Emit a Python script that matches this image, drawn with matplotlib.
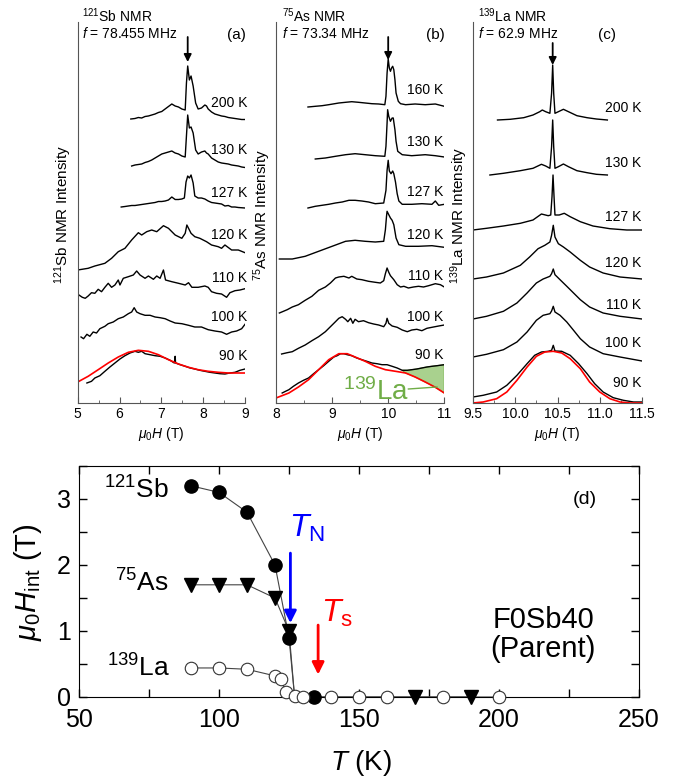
import matplotlib
matplotlib.use("Agg")
import matplotlib.pyplot as plt
from matplotlib.ticker import MultipleLocator

plt.rcParams['font.family'] = ['Liberation Sans', 'DejaVu Sans']
plt.rcParams['mathtext.fontset'] = 'custom'
plt.rcParams['mathtext.rm'] = 'Liberation Sans'
plt.rcParams['mathtext.it'] = 'Liberation Sans:italic'
plt.rcParams['mathtext.bf'] = 'Liberation Sans:bold'

# ---------------- (a) 121Sb NMR spectra ----------------
sb_temps = ['200 K', '130 K', '127 K', '120 K', '110 K', '100 K', '90 K']
sb_offsets = [284, 237, 196, 133, 108, 66, 20]
sb_fields = [
    [6.27, 6.37, 6.45, 6.53, 6.61, 6.69, 6.77, 6.85, 6.93, 7.01, 7.09, 7.17, 7.25, 7.33, 7.41, 7.49, 7.57, 7.60, 7.63, 7.67,
     7.71, 7.76, 7.82, 7.88, 7.96, 8.04, 8.08, 8.12, 8.20, 8.28, 8.36, 8.44, 8.52, 8.60, 8.68, 8.76, 8.84, 8.92, 9.00],
    [6.29, 6.37, 6.45, 6.53, 6.61, 6.69, 6.77, 6.85, 6.93, 7.01, 7.09, 7.17, 7.25, 7.33, 7.41, 7.49, 7.57, 7.60, 7.63, 7.67,
     7.71, 7.76, 7.82, 7.88, 7.96, 8.04, 8.08, 8.12, 8.20, 8.28, 8.36, 8.44, 8.52, 8.60, 8.68, 8.76, 8.84, 8.92, 9.00],
    [6.04, 6.13, 6.21, 6.29, 6.37, 6.45, 6.53, 6.61, 6.69, 6.77, 6.85, 6.93, 7.01, 7.09, 7.17, 7.25, 7.33, 7.41, 7.49, 7.55,
     7.59, 7.63, 7.67, 7.71, 7.76, 7.80, 7.88, 7.96, 8.04, 8.12, 8.20, 8.28, 8.36, 8.44, 8.52, 8.60, 8.68, 8.76, 8.84, 9.00],
    [5.00, 5.25, 5.41, 5.65, 5.81, 5.97, 6.13, 6.29, 6.45, 6.53, 6.65, 6.77, 6.89, 7.05, 7.17, 7.33, 7.49, 7.57, 7.61, 7.65,
     7.71, 7.80, 7.92, 8.08, 8.20, 8.36, 8.44, 8.52, 8.68, 8.84, 9.00],
    [5.03, 5.11, 5.18, 5.25, 5.33, 5.41, 5.49, 5.57, 5.65, 5.73, 5.81, 5.89, 5.97, 6.01, 6.09, 6.21, 6.33, 6.41, 6.49, 6.61,
     6.69, 6.81, 6.89, 6.97, 7.05, 7.10, 7.25, 7.41, 7.57, 7.65, 7.73, 7.88, 8.04, 8.12, 8.20, 8.32, 8.44, 8.56, 8.64, 8.76,
     8.88, 9.00],
    [5.08, 5.14, 5.22, 5.29, 5.37, 5.45, 5.53, 5.65, 5.73, 5.85, 5.97, 6.09, 6.21, 6.29, 6.35, 6.41, 6.49, 6.61, 6.73, 6.85,
     6.97, 7.09, 7.21, 7.33, 7.49, 7.65, 7.80, 7.96, 8.12, 8.28, 8.44, 8.56, 8.68, 8.80, 8.92, 9.00],
    [5.22, 5.33, 5.41, 5.53, 5.65, 5.77, 5.89, 6.01, 6.13, 6.25, 6.37, 6.45, 6.53, 6.61, 6.73, 6.85, 6.97, 7.09, 7.21, 7.31,
     7.33, 7.34, 7.45, 7.57, 7.69, 7.80, 7.92, 8.04, 8.16, 8.28, 8.40, 8.52, 8.64, 8.76, 8.88, 9.00],
]
sb_intens = [
    [0, 0.5, 1.5, 1, 2.5, 3, 4, 5, 6.5, 7.5, 10, 12.5, 15, 13, 12, 10, 9, 36, 53, 39,
     43, 33, 16, 10, 11, 14, 13, 10, 7, 5, 4, 3, 2.5, 1.5, 1, 0.5, 0, -0.5, -0.5],
    [0, 1, 1.5, 2, 3.5, 4.5, 6, 8, 10, 12, 13, 14, 15, 13, 12, 10, 9, 30, 51, 38,
     39, 33, 16, 12, 14, 15, 13, 12, 8, 6, 4, 3, 2.5, 2, 1, 0.5, 0, -1, -1.5],
    [0, 0.5, 1, 1.5, 1.5, 2, 2.5, 3, 3.5, 4, 4.5, 5.5, 5.5, 6, 7, 10, 7.5, 7.5, 8, 9,
     25, 31, 29, 32, 24, 11, 9, 9, 8, 6, 4.5, 4, 3.5, 3, 1, 1.5, 0, 0, -0.5, -1],
    [0, 1.7, 4, 6.7, 11.7, 18.3, 21.7, 30, 37.3, 35, 38.3, 40, 38.3, 44.3, 41.7, 35, 31.7, 36.7, 45, 41.7,
     36.7, 33.3, 31.7, 28.3, 25, 23.3, 21.7, 25, 20, 20, 17.3],
    [0, -2.3, -3.3, -1, 2.3, 1.7, 5.7, 3.3, 7.7, 11.7, 7.7, 10, 15, 10, 16.7, 18.3, 20, 24, 20, 16.7,
     19, 15.7, 19, 16.7, 25, 15, 13.3, 11.7, 10, 12.3, 7.7, 7.7, 9, 7.7, 3.3, 1.7, 1, -2.3, 2.3, 4.3,
     5, 6.3],
    [0, -1.7, 2.7, 0.7, 5, 4, 8.3, 10.7, 13.3, 15, 18.3, 20, 23.3, 25, 29.3, 25, 23.3, 21.7, 21.7, 20,
     19.3, 18.3, 16, 14, 13.3, 11.7, 10, 10, 7.3, 6, 5, 2.7, 5, 6, 8.3, 12.7],
    [0, 1.7, 5, 7.3, 11.7, 16, 20, 24, 27.3, 30, 31.7, 30.7, 31.7, 29.3, 28.3, 27.3, 26.7, 25, 22.7, 20,
     26.7, 20, 18.3, 16.7, 15, 14, 12.7, 11.7, 10.7, 10, 9.3, 9, 10, 10.7, 12.7, 14],
]
sb_fit_field = [5.00, 5.25, 5.49, 5.73, 5.97, 6.21, 6.45, 6.69, 6.93, 7.17, 7.41, 7.65, 7.88, 8.12, 8.36, 8.60, 8.84, 9.00]
sb_fit_int = [1, 6.7, 13.3, 20, 26, 30.7, 32.7, 31.7, 28.3, 23.3, 19, 15.7, 13.3, 11.7, 10.7, 10, 10, 10]

# ---------------- (b) 75As NMR spectra ----------------
as_temps = ['160 K', '130 K', '127 K', '120 K', '110 K', '100 K', '90 K']
as_offsets = [296, 244, 195, 144, 90, 49, 10]
as_fields = [
    [8.57, 8.70, 8.82, 8.94, 9.12, 9.24, 9.35, 9.47, 9.59, 9.71, 9.83, 9.94, 9.96, 9.98, 10.00, 10.02, 10.04, 10.06,
     10.08, 10.10, 10.12, 10.14, 10.18, 10.22, 10.31, 10.48, 10.66, 10.84, 11.00],
    [8.70, 8.88, 9.06, 9.24, 9.41, 9.59, 9.77, 9.94, 9.96, 9.98, 9.99, 10.01, 10.04, 10.07, 10.09, 10.12, 10.14, 10.17,
     10.25, 10.42, 10.66, 10.84, 11.00],
    [8.57, 8.70, 8.82, 8.94, 9.06, 9.18, 9.30, 9.41, 9.53, 9.65, 9.77, 9.92, 9.96, 9.98, 10.00, 10.02, 10.05, 10.08,
     10.10, 10.13, 10.16, 10.19, 10.25, 10.42, 10.60, 10.78, 10.84, 10.90, 11.00],
    [8.06, 8.29, 8.52, 8.76, 9.00, 9.24, 9.41, 9.59, 9.77, 9.92, 9.95, 9.97, 9.98, 10.01, 10.04, 10.07, 10.10, 10.14,
     10.19, 10.31, 10.54, 10.78, 11.00],
    [8.06, 8.20, 8.29, 8.40, 8.52, 8.64, 8.76, 8.88, 8.97, 9.06, 9.12, 9.21, 9.30, 9.35, 9.44, 9.53, 9.65, 9.77,
     9.86, 9.92, 9.95, 9.98, 10.01, 10.04, 10.10, 10.16, 10.22, 10.28, 10.36, 10.45, 10.54, 10.63, 10.72, 10.84,
     10.93, 11.00],
    [8.10, 8.20, 8.29, 8.40, 8.52, 8.64, 8.76, 8.88, 8.97, 9.06, 9.12, 9.18, 9.24, 9.28, 9.33, 9.37, 9.41, 9.47,
     9.56, 9.65, 9.74, 9.83, 9.92, 9.96, 9.98, 10.01, 10.07, 10.16, 10.25, 10.34, 10.42, 10.51, 10.60, 10.69,
     10.78, 10.90, 11.00],
    [8.11, 8.17, 8.23, 8.31, 8.40, 8.49, 8.58, 8.67, 8.76, 8.85, 8.94, 9.03, 9.09, 9.15, 9.21, 9.27, 9.35, 9.44,
     9.53, 9.62, 9.71, 9.80, 9.89, 9.98, 10.07, 10.16, 10.25, 10.34, 10.42, 10.51, 10.60, 10.69, 10.78, 10.87, 11.00],
]
as_intens = [
    [0, 0.7, 1.3, 2.3, 4, 4.7, 5.3, 4.7, 4, 3.3, 3, 2.3, 10.7, 34, 48, 39, 35.7, 39,
     40.7, 37.3, 27.3, 14, 5.7, 3.3, 2.3, 3, 2.3, 3, 0.7],
    [0, 1, 2.7, 4.3, 5.3, 4.3, 3.3, 2.7, 12.7, 36, 49.3, 42.7, 37.7, 41, 41, 29.3, 17.7, 7.7,
     4.3, 3.3, 4.3, 3.3, 2],
    [0, 1.7, 2.7, 3.7, 5, 6, 7.7, 7.7, 7, 6, 4.3, 5, 17.7, 37.7, 47.7, 37, 34.3, 37,
     34.3, 26, 14.3, 7, 3.7, 3.7, 4.3, 3.7, 7, 2.7, 3.7],
    [0, 0, 2.7, 7.7, 12.7, 17.7, 18.7, 17.7, 17, 17.7, 29.3, 42.7, 47.7, 44.3, 41, 38.7, 34.3, 21,
     14.3, 12.7, 12.7, 13.3, 11.7],
    [0, 3.3, 6, 8.3, 12.7, 16.7, 22.7, 26, 30, 35, 36, 36.7, 35, 36.7, 34, 33.3, 31.7, 30.7,
     30, 32.3, 39.3, 45, 40.7, 37.3, 33.3, 28.3, 26, 26.7, 25, 26, 26.7, 26, 27.3, 29.3,
     28.3, 26],
    [0, 1.3, 2.3, 5.7, 9, 13.3, 17.3, 22.3, 27.3, 32.3, 35.7, 37.3, 34.7, 32.3, 35.7, 30.7, 34.7, 32.3,
     33.3, 31.3, 30, 29, 27.3, 30.7, 35.7, 30.7, 28, 26.7, 24, 22.3, 24, 24.7, 23.3, 25.7,
     26.7, 28, 29],
    [0, 1.7, 3.3, 6.7, 10, 12.7, 15, 19.3, 23.3, 27.3, 31.7, 36, 37.3, 39.3, 39.3, 38.3, 37.3, 35,
     33.3, 31.7, 30, 29.3, 28.3, 28.3, 26.7, 25, 22.7, 22.7, 23.3, 24, 25, 26, 26.7, 27.3, 28.3],
]
as_fit_field = [8.00, 8.23, 8.40, 8.58, 8.76, 8.94, 9.12, 9.27, 9.41, 9.59, 9.77, 9.95, 10.13, 10.31, 10.48, 10.66,
                10.84, 11.00]
as_fit_int = [-5, 0, 6, 13.3, 23.3, 33.3, 39.3, 39.3, 36, 31.7, 26.7, 23.3, 21.7, 20, 16, 11, 5.7, 0]

# ---------------- (c) 139La NMR spectra ----------------
la_temps = ['200 K', '130 K', '127 K', '120 K', '110 K', '100 K', '90 K']
la_offsets = [283, 228, 173, 124, 84, 46, 6]
la_fields = [
    [9.79, 9.94, 10.10, 10.21, 10.29, 10.32, 10.36, 10.41, 10.43, 10.443, 10.455, 10.47, 10.51, 10.57, 10.63, 10.73,
     10.85, 10.96, 11.09],
    [9.70, 9.86, 10.06, 10.21, 10.31, 10.36, 10.41, 10.43, 10.443, 10.455, 10.47, 10.51, 10.57, 10.63, 10.73, 10.85,
     10.96, 11.09],
    [9.50, 9.66, 9.86, 10.06, 10.21, 10.31, 10.39, 10.42, 10.435, 10.447, 10.459, 10.47, 10.52, 10.58, 10.65, 10.77,
     10.92, 11.12, 11.32, 11.50],
    [9.50, 9.66, 9.86, 10.06, 10.17, 10.27, 10.35, 10.41, 10.43, 10.45, 10.47, 10.51, 10.57, 10.65, 10.77, 10.88,
     11.04, 11.24, 11.50],
    [9.50, 9.66, 9.86, 10.02, 10.14, 10.25, 10.33, 10.41, 10.43, 10.45, 10.47, 10.53, 10.61, 10.69, 10.77, 10.88,
     11.04, 11.24, 11.50],
    [9.50, 9.66, 9.86, 10.02, 10.14, 10.25, 10.33, 10.41, 10.43, 10.45, 10.47, 10.53, 10.61, 10.69, 10.77, 10.88,
     11.04, 11.24, 11.50],
    [9.50, 9.62, 9.78, 9.90, 10.02, 10.14, 10.23, 10.31, 10.39, 10.43, 10.45, 10.47, 10.55, 10.65, 10.75, 10.85,
     10.94, 11.04, 11.16, 11.28, 11.40, 11.50],
]
la_intens = [
    [0, 0.7, 2.3, 5, 8.3, 10, 8.3, 6.7, 26.7, 55, 26.7, 6.7, 8.3, 10.7, 8.3, 4.3, 2.3, 1, 0],
    [0, 1.7, 4.3, 6.7, 10.7, 9, 6.7, 28.3, 55, 28.3, 6.7, 8.3, 11, 8.3, 4.3, 2.3, 0.7, 0],
    [0, 1.7, 4, 6.7, 10, 16, 14.3, 15, 33.3, 55, 33.3, 15, 15, 16.7, 13.3, 8.3, 4, 1.3, 0, 0],
    [0, 2, 6, 13.7, 22, 30.3, 33.7, 37, 43.7, 53.7, 42, 35.3, 32, 27, 18.7, 12, 6, 2, 0],
    [0, 2.7, 7.7, 16, 26, 36, 40, 42.7, 45.3, 50, 44.3, 39.3, 32.7, 26, 19.3, 12, 6, 2.7, 0],
    [0, 2.7, 7.3, 15, 25, 36.7, 41.7, 43.3, 46, 50.7, 45, 41.7, 35, 26.7, 18.3, 10, 3.3, 0, -4],
    [0, 1.7, 5, 11.7, 21.7, 33.3, 41.7, 45, 45.7, 46.7, 51.7, 46, 45.7, 41.7, 33.3, 23.3, 13.3, 5, -0.7, -3.3, -5, -5],
]
la_fit_field = [9.50, 9.62, 9.78, 9.90, 10.02, 10.14, 10.25, 10.35, 10.45, 10.55, 10.65, 10.77, 10.88, 11.00, 11.12,
                11.24, 11.36, 11.50]
la_fit_int = [-6, -5, -1.7, 5, 16.7, 30, 40.7, 45, 45.7, 44, 38.3, 28.3, 15, 5, -1.7, -5, -6, -6]

# ---------------- (d) internal field vs T ----------------
T_sb = [90, 100, 110, 120, 125, 127, 134]
H_sb = [3.2, 3.1, 2.8, 2.0, 0.9, 0.0, 0.0]
T_as = [90, 100, 110, 120, 125, 127, 170, 190]
H_as = [1.7, 1.7, 1.7, 1.5, 1.0, 0.0, 0.0, 0.0]
T_la = [90, 100, 110, 120, 122, 124, 127, 130, 140, 150, 160, 180, 200]
H_la = [0.44, 0.44, 0.42, 0.32, 0.27, 0.07, 0.01, 0, 0, 0, 0, 0, 0]

W, H = 689, 778
fig = plt.figure(figsize=(W / 100, H / 100), dpi=100)


def px_box(left, right, top, bottom):
    return [left / W, 1 - bottom / H, (right - left) / W, (bottom - top) / H]


def spectra_panel(box, xlim, fields, intens, offsets, temps, lab_y, lab_x, fit_x, fit_y, major, minor, fmt):
    ax = fig.add_axes(box)
    for f, i, o in zip(fields, intens, offsets):
        ax.plot(f, [v + o for v in i], color='k', lw=1.0)
    ax.plot(fit_x, [v + offsets[-1] for v in fit_y], color='red', lw=1.2)
    for t, y in zip(temps, lab_y):
        ax.text(lab_x, y, t, ha='right', va='center', fontsize=10)
    ax.set_xlim(*xlim)
    ax.set_ylim(0, 381)
    for s in ['top', 'right']:
        ax.spines[s].set_visible(False)
    for s in ['left', 'bottom']:
        ax.spines[s].set_color('#555555')
    ax.set_yticks([])
    ax.xaxis.set_major_locator(MultipleLocator(major))
    ax.xaxis.set_minor_locator(MultipleLocator(minor))
    ax.xaxis.set_major_formatter(fmt)
    ax.tick_params(axis='x', which='both', direction='in', labelsize=10, pad=3, color='#555555')
    ax.tick_params(axis='x', which='major', length=4)
    ax.tick_params(axis='x', which='minor', length=2)
    ax.set_xlabel(r'$\mu_0H$ (T)', fontsize=10, labelpad=3)
    return ax


arrow_kw = dict(arrowstyle='-|>', color='k', lw=1.3, mutation_scale=11, shrinkA=0, shrinkB=0)

# (a)
ax_a = spectra_panel(px_box(77.7, 245, 22, 403), (5, 9), sb_fields, sb_intens, sb_offsets, sb_temps,
                     [300, 253, 210, 168, 125, 86, 47], 9.05, sb_fit_field, sb_fit_int, 1, 0.5, '{x:.0f}')
ax_a.annotate('', xy=(7.63, 341), xytext=(7.63, 366), arrowprops=arrow_kw, annotation_clip=False)
# (b)
ax_b = spectra_panel(px_box(276, 444.3, 22, 403), (8, 11), as_fields, as_intens, as_offsets, as_temps,
                     [313, 261, 211, 168, 127, 86, 48], 10.98, as_fit_field, as_fit_int, 1, 0.5, '{x:.0f}')
ax_b.annotate('', xy=(10.0, 343), xytext=(10.0, 366), arrowprops=arrow_kw, annotation_clip=False)
blk = [(f, v) for f, v in zip(as_fields[-1], as_intens[-1]) if f >= 10.25]
red = [(f, v) for f, v in zip(as_fit_field, as_fit_int) if f >= 10.25]
poly = blk + red[::-1]
ax_b.fill([p[0] for p in poly], [p[1] + as_offsets[-1] for p in poly], color='#a9d18e', ec='#70ad47', lw=0.8,
          zorder=1)
ax_b.text(9.78, 3, r'$^{139}$La', color='#70ad47', fontsize=20, ha='center', va='baseline')
ax_b.plot([10.36, 10.87], [14, 16], color='#70ad47', lw=1)
# (c)
ax_c = spectra_panel(px_box(473, 642, 22, 403), (9.5, 11.5), la_fields, la_intens, la_offsets, la_temps,
                     [295, 240, 186, 140, 98, 60, 20], 11.49, la_fit_field, la_fit_int, 0.5, 0.25, '{x:.1f}')
ax_c.annotate('', xy=(10.443, 338), xytext=(10.443, 360), arrowprops=arrow_kw, annotation_clip=False)

# headers
for x, nuc, freq in [(82, r'$^{121}$Sb NMR', r'$f$ = 78.455 MHz'),
                     (282, r'$^{75}$As NMR', r'$f$ = 73.34 MHz'),
                     (478, r'$^{139}$La NMR', r'$f$ = 62.9 MHz')]:
    fig.text(x / W, 1 - 16 / H, nuc, fontsize=10, ha='left', va='center')
    fig.text(x / W, 1 - 34 / H, freq, fontsize=10, ha='left', va='center')
for x, lab in [(236, '(a)'), (435, '(b)'), (607, '(c)')]:
    fig.text(x / W, 1 - 35 / H, lab, fontsize=11, ha='center', va='center')
for x, lab in [(63, r'$^{121}$Sb NMR Intensity'), (262, r'$^{75}$As NMR Intensity'),
               (459, r'$^{139}$La NMR Intensity')]:
    fig.text(x / W, 1 - 215 / H, lab, fontsize=11, rotation=90, ha='center', va='center')

# (d)
ax_d = fig.add_axes(px_box(79, 639, 466, 697))
ax_d.plot(T_la, H_la, color='#444444', lw=0.8, zorder=2)
ax_d.plot(T_sb, H_sb, color='#444444', lw=0.8, zorder=2)
ax_d.plot(T_as, H_as, color='#444444', lw=0.8, zorder=2)
ax_d.plot(T_as, H_as, ls='none', marker='v', ms=10.5, color='k', markevery=[0, 1, 2, 3, 4, 6, 7], zorder=3,
          clip_on=False)
ax_d.plot(T_sb, H_sb, ls='none', marker='o', ms=9.5, color='k', markevery=[0, 1, 2, 3, 4, 6], zorder=4,
          clip_on=False)
ax_d.plot(T_la, H_la, ls='none', marker='o', ms=9, mfc='white', mec='#333333', mew=0.8, zorder=5,
          clip_on=False)
ax_d.set_xlim(50, 250)
ax_d.set_ylim(0, 3.5)
ax_d.xaxis.set_major_locator(MultipleLocator(50))
ax_d.xaxis.set_minor_locator(MultipleLocator(25))
ax_d.yaxis.set_major_locator(MultipleLocator(1))
ax_d.yaxis.set_minor_locator(MultipleLocator(0.5))
ax_d.tick_params(which='both', direction='in', top=True, right=True, labelsize=18)
ax_d.tick_params(which='major', length=6, width=1)
ax_d.tick_params(which='minor', length=6, width=1)
ax_d.tick_params(axis='x', pad=8)
ax_d.tick_params(axis='y', pad=6)
ax_d.text(82, 3.14, r'$^{121}$Sb', fontsize=19, ha='right', va='center')
ax_d.text(82, 1.73, r'$^{75}$As', fontsize=19, ha='right', va='center')
ax_d.text(82.5, 0.44, r'$^{139}$La', fontsize=19, ha='right', va='center')
ax_d.annotate('', xy=(125.5, 1.12), xytext=(125.5, 2.18),
              arrowprops=dict(arrowstyle='-|>', color='#0000ff', lw=2, mutation_scale=18, shrinkA=0, shrinkB=0))
ax_d.annotate('', xy=(135.4, 0.34), xytext=(135.4, 1.09),
              arrowprops=dict(arrowstyle='-|>', color='#ff0000', lw=2, mutation_scale=18, shrinkA=0, shrinkB=0))
ax_d.text(131.5, 2.55, r'$T_\mathrm{N}$', color='#0000ff', fontsize=23, ha='center', va='center')
ax_d.text(142, 1.27, r'$T_\mathrm{s}$', color='#ff0000', fontsize=23, ha='center', va='center')
ax_d.text(0.903, 0.853, '(d)', transform=ax_d.transAxes, fontsize=14, ha='center', va='center')
ax_d.text(0.829, 0.27, 'F0Sb40\n(Parent)', transform=ax_d.transAxes, fontsize=21, ha='center', va='center',
          linespacing=1.05)
fig.text(28 / W, 1 - 582 / H, r'$\mu_0H_\mathrm{int}$ (T)', fontsize=21, rotation=90, ha='center', va='center')
fig.text(361 / W, 1 - 763 / H, r'$T$ (K)', fontsize=20, ha='center', va='center')

fig.savefig('out.png', dpi=100)
